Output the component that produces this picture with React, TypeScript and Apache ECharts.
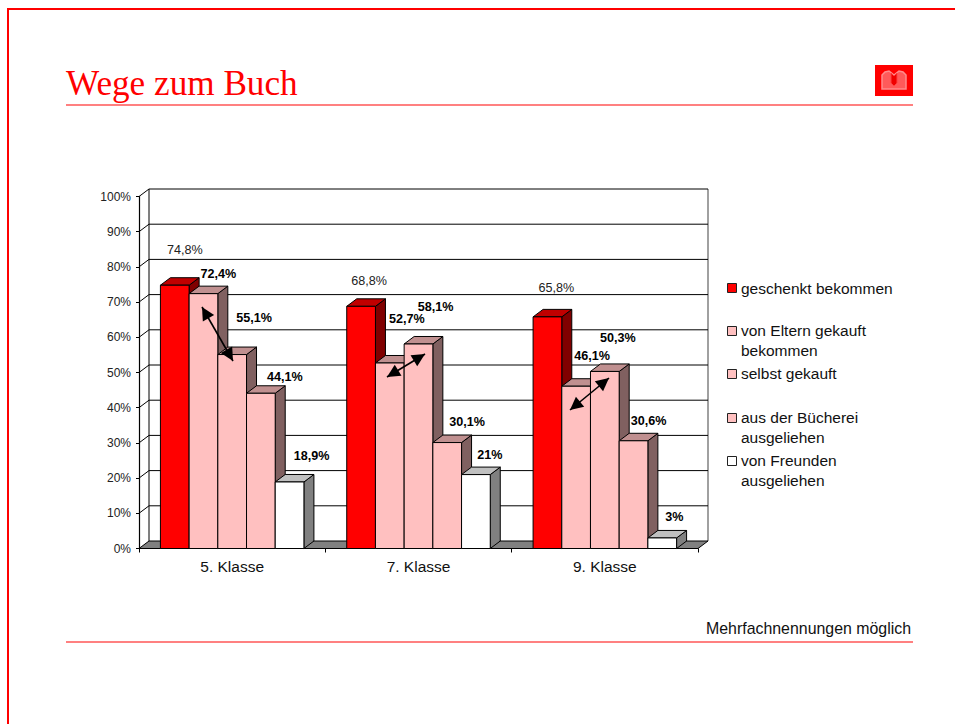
import React, { useEffect, useRef } from "react";
import * as echarts from "echarts";

const categories = ["5. Klasse", "7. Klasse", "9. Klasse"];
const seriesNames = [
  "geschenkt bekommen",
  "von Eltern gekauft\nbekommen",
  "selbst gekauft",
  "aus der Bücherei\nausgeliehen",
  "von Freunden\nausgeliehen",
];
const geschenkt = [74.8, 68.8, 65.8];
const eltern = [72.4, 52.7, 46.1];
const selbst = [55.1, 58.1, 50.3];
const buecherei = [44.1, 30.1, 30.6];
const freunde = [18.9, 21, 3];
const seriesValues = [geschenkt, eltern, selbst, buecherei, freunde];
const yTicks = [0, 10, 20, 30, 40, 50, 60, 70, 80, 90, 100];

// layout only: label centre relative to the top centre of each bar's front face
const labelOffsets = [
  [[10, -35], [8, -25], [9, -29]],
  [[15, -20], [17, -44], [16, -30]],
  [[22, -37], [17, -37], [13, -33]],
  [[24, -16], [20, -21], [15, -20]],
  [[22, -26], [14, -20], [12, -21]],
];
const faces = [
  { front: "#ff0000", top: "#c00000", side: "#800000", bold: false },
  { front: "#ffc0c0", top: "#c09090", side: "#806060", bold: true },
  { front: "#ffc0c0", top: "#c09090", side: "#806060", bold: true },
  { front: "#ffc0c0", top: "#c09090", side: "#806060", bold: true },
  { front: "#ffffff", top: "#c0c0c0", side: "#808080", bold: true },
];
const legendRows = [288, 330.5, 373.5, 417.5, 460.5];
const arrows = [
  [202, 307, 233, 361],
  [387, 377, 425, 354],
  [570, 410, 609, 378],
];

const SANS = '"Liberation Sans", Arial, sans-serif';
const DX = 10;
const DY = 7.5;
const BAR_FILL = 143.5 / 186.33;

const poly = (points: number[][], fill: string, z2: number, stroke = "#000", lineWidth = 1) => ({
  type: "polygon",
  z2,
  shape: { points },
  style: { fill, stroke, lineWidth },
});
const seg = (x1: number, y1: number, x2: number, y2: number, stroke: string, z2: number, lineWidth = 1) => ({
  type: "line",
  z2,
  shape: { x1, y1, x2, y2 },
  style: { stroke, lineWidth, fill: "none" },
});

function arrowHead(tx: number, ty: number, fx: number, fy: number) {
  const len = Math.hypot(tx - fx, ty - fy);
  const ux = (tx - fx) / len;
  const uy = (ty - fy) / len;
  const L = 13;
  const W = 6.5;
  return {
    type: "polygon",
    shape: {
      points: [
        [tx, ty],
        [tx - ux * L - uy * W, ty - uy * L + ux * W],
        [tx - ux * L + uy * W, ty - uy * L - ux * W],
      ],
    },
    style: { fill: "#000" },
    z: 50,
  };
}

function wallsRender(params: any, api: any) {
  const v = api.value(1);
  const y = api.coord([0, v])[1];
  const r = params.coordSys;
  const children: any[] = [];
  const left = r.x;
  const right = r.x + r.width;
  if (v === 0) {
    const top = r.y;
    children.push(poly([[left, y], [right, y], [right + DX, y - DY], [left + DX, y - DY]], "#808080", 2));
    children.push(seg(left + DX, top - DY, left + DX, y - DY, "#000", 1));
    children.push(seg(right + DX, top - DY, right + DX, y - DY, "#808080", 1, 1.5));
  } else {
    children.push(seg(left + DX, y - DY, right + DX, y - DY, "#000", 1));
    children.push(seg(left, y, left + DX, y - DY, "#000", 1));
  }
  return { type: "group", children };
}

function barRender(seriesIndex: number) {
  return (_params: any, api: any) => {
    const cat = api.value(0);
    const v = api.value(1);
    const band = api.size([1, 0])[0];
    const center = api.coord([cat, 0])[0];
    const y0 = api.coord([cat, 0])[1];
    const y1 = api.coord([cat, v])[1];
    const w = (band * BAR_FILL) / seriesValues.length;
    const x0 = center - (w * seriesValues.length) / 2 + seriesIndex * w;
    const x1 = x0 + w;
    const f = faces[seriesIndex];
    const base = 10 + seriesIndex * 4 + cat * 30;
    const [ox, oy] = labelOffsets[seriesIndex][cat];
    return {
      type: "group",
      children: [
        poly([[x1, y0], [x1 + DX, y0 - DY], [x1 + DX, y1 - DY], [x1, y1]], f.side, base),
        poly([[x0, y1], [x1, y1], [x1 + DX, y1 - DY], [x0 + DX, y1 - DY]], f.top, base + 1),
        poly([[x0, y0], [x1, y0], [x1, y1], [x0, y1]], f.front, base + 2),
        {
          type: "text",
          z2: 500,
          style: {
            text: String(v).replace(".", ",") + "%",
            x: (x0 + x1) / 2 + ox,
            y: y1 + oy,
            align: "center",
            verticalAlign: "middle",
            fill: f.bold ? "#000" : "#222",
            font: `${f.bold ? "bold " : ""}12.6px ${SANS}`,
          },
        },
      ],
    };
  };
}

function buildGraphic() {
  const g: any[] = [
    { type: "line", shape: { x1: 8, y1: 9, x2: 955, y2: 9 }, style: { stroke: "#ff0000", lineWidth: 2 } },
    { type: "line", shape: { x1: 8, y1: 8, x2: 8, y2: 724 }, style: { stroke: "#ff0000", lineWidth: 2 } },
    { type: "line", shape: { x1: 66, y1: 105, x2: 913, y2: 105 }, style: { stroke: "#ff8080", lineWidth: 2 } },
    { type: "line", shape: { x1: 66, y1: 642, x2: 913, y2: 642 }, style: { stroke: "#ff8080", lineWidth: 2 } },
    {
      type: "text",
      style: { text: "Wege zum Buch", x: 66, y: 83.5, align: "left", verticalAlign: "middle", fill: "#ff0000", font: '35.2px "Liberation Serif", serif' },
    },
    {
      type: "text",
      style: { text: "Mehrfachnennungen möglich", x: 911, y: 628, align: "right", verticalAlign: "middle", fill: "#111", font: `15.9px ${SANS}` },
    },
    { type: "rect", shape: { x: 875, y: 65, width: 38, height: 31 }, style: { fill: "#ff0000" } },
    {
      type: "polygon",
      shape: { points: [[894, 75], [889, 71], [885, 72], [882, 75], [882, 89], [906, 89], [906, 75], [903, 72], [899, 71]] },
      style: { fill: "#ff5a5a", stroke: "#ff8c8c", lineWidth: 1.5 },
    },
    {
      type: "polygon",
      shape: { points: [[891, 73], [891, 83], [894, 86], [897, 83], [897, 73], [894, 76]] },
      style: { fill: "#f00000", stroke: "#ff4040", lineWidth: 1 },
    },
  ];
  seriesNames.forEach((name, i) => {
    const cy = legendRows[i];
    g.push({
      type: "rect",
      shape: { x: 727.5, y: Math.round(cy) - 4.5, width: 9, height: 9 },
      style: { fill: faces[i].front, stroke: "#222", lineWidth: 1 },
    });
    g.push({
      type: "text",
      style: {
        text: name,
        x: 741,
        y: cy - 9.75,
        align: "left",
        verticalAlign: "top",
        lineHeight: 19.5,
        fill: "#111",
        font: `15.5px ${SANS}`,
      },
    });
  });
  arrows.forEach(([x1, y1, x2, y2]) => {
    g.push({ type: "line", z: 50, shape: { x1, y1, x2, y2 }, style: { stroke: "#000", lineWidth: 1.6 } });
    g.push(arrowHead(x1, y1, x2, y2));
    g.push(arrowHead(x2, y2, x1, y1));
  });
  return g;
}

export default function App() {
  const ref = useRef<HTMLDivElement>(null);
  useEffect(() => {
    document.body.style.margin = "0";
    const chart = echarts.init(ref.current!, undefined, { renderer: "svg" });
    chart.setOption({
      animation: false,
      backgroundColor: "#fff",
      textStyle: { fontFamily: SANS },
      grid: { left: 139, top: 196.5, width: 559, height: 352, containLabel: false },
      xAxis: {
        type: "category",
        data: categories,
        axisLine: { show: true, lineStyle: { color: "#000", width: 1 } },
        axisTick: { show: true, length: 4, lineStyle: { color: "#000" } },
        axisLabel: { color: "#111", fontSize: 15.5, fontFamily: SANS, margin: 10 },
        splitLine: { show: false },
      },
      yAxis: {
        type: "value",
        min: 0,
        max: 100,
        interval: 10,
        axisLine: { show: true, lineStyle: { color: "#000", width: 1.2 } },
        axisTick: { show: true, length: 3, lineStyle: { color: "#000" } },
        axisLabel: { color: "#222", fontSize: 12, fontFamily: SANS, margin: 8, formatter: "{value}%" },
        splitLine: { show: false },
      },
      graphic: buildGraphic(),
      series: [
        {
          type: "custom",
          name: "walls",
          silent: true,
          clip: false,
          data: yTicks.map((t) => [0, t]),
          encode: { x: 0, y: 1 },
          renderItem: wallsRender,
        },
        ...seriesValues.map((vals, i) => ({
          type: "custom",
          name: seriesNames[i],
          silent: true,
          clip: false,
          data: vals.map((v, c) => [c, v]),
          encode: { x: 0, y: 1 },
          renderItem: barRender(i),
        })),
      ],
    });
    return () => chart.dispose();
  }, []);
  return <div ref={ref} style={{ position: "absolute", left: 0, top: 0, width: 955, height: 724 }} />;
}
